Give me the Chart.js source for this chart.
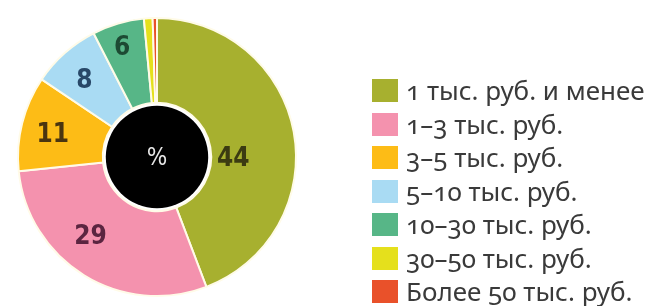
<!DOCTYPE html>
<html lang="ru">
<head>
<meta charset="utf-8">
<script src="https://cdn.jsdelivr.net/npm/chart.js@4.4.1/dist/chart.umd.min.js"></script>
<style>
  html, body { margin: 0; padding: 0; background: #fff; }
  #wrap { position: relative; width: 652px; height: 306px; }
  #legenda {
    position: absolute; left: 372px; top: 74px; margin: 0; padding: 0; list-style: none;
    font-family: "Noto Sans", "Open Sans", sans-serif; font-size: 26px; color: #3a3a3a;
    font-variant-numeric: oldstyle-nums; letter-spacing: 0;
  }
  #legenda li { height: 33.5px; display: flex; align-items: center; white-space: nowrap; line-height: 33px; }
  #legenda span.cx { display: inline-block; width: 26px; height: 23px; margin-right: 8px; }
</style>
</head>
<body>
<div id="wrap">
  <canvas id="grafico" width="652" height="306"></canvas>
  <ul id="legenda"></ul>
</div>
<script>
// Dados
const categorias = [
  '1 тыс. руб. и менее',
  '1–3 тыс. руб.',
  '3–5 тыс. руб.',
  '5–10 тыс. руб.',
  '10–30 тыс. руб.',
  '30–50 тыс. руб.',
  'Более 50 тыс. руб.'
];
const valores = [44, 29, 11, 8, 6, 1, 0.5];
const rotulos = ['44', '29', '11', '8', '6', '', ''];

// Estilo
const cores = ['#a7b02f', '#f492ae', '#fdbc16', '#a9dbf3', '#57b687', '#e5e01c', '#e9512a'];
const coresTexto = ['#3b3b12', '#5b2540', '#4a3510', '#284868', '#1d4a33', '#000', '#000'];
// posição do rótulo: fração ao longo do arco e fração do anel
const posRotulo = [[0.57, 0.26], [0.58, 0.58], [0.46, 0.62], [0.44, 0.61], [0.44, 0.72], [0.5, 0.6], [0.5, 0.6]];

const pluginRotulos = {
  id: 'rotulos',
  afterDatasetsDraw(chart) {
    const ctx = chart.ctx;
    const arcs = chart.getDatasetMeta(0).data;
    const primeiro = arcs[0];
    const cx = primeiro.x, cy = primeiro.y;

    // círculo central
    ctx.save();
    ctx.beginPath();
    ctx.arc(cx, cy, primeiro.innerRadius - 3, 0, Math.PI * 2);
    ctx.fillStyle = '#000';
    ctx.fill();
    ctx.fillStyle = '#e6e6e6';
    ctx.font = '24px "Liberation Sans Narrow", "DejaVu Sans Condensed", sans-serif';
    ctx.textAlign = 'center';
    ctx.textBaseline = 'middle';
    ctx.fillText('%', cx, cy + 2);

    ctx.font = 'bold 26px "Liberation Sans Narrow", "DejaVu Sans Condensed", sans-serif';
    arcs.forEach((arc, i) => {
      if (!rotulos[i]) return;
      const p = arc.getProps(['startAngle', 'endAngle', 'innerRadius', 'outerRadius']);
      const ang = p.startAngle + (p.endAngle - p.startAngle) * posRotulo[i][0];
      const r = p.innerRadius + (p.outerRadius - p.innerRadius) * posRotulo[i][1];
      ctx.fillStyle = coresTexto[i];
      ctx.fillText(rotulos[i], cx + r * Math.cos(ang), cy + r * Math.sin(ang) + 1);
    });
    ctx.restore();
  }
};

new Chart(document.getElementById('grafico'), {
  type: 'doughnut',
  data: {
    labels: categorias,
    datasets: [{
      data: valores,
      backgroundColor: cores,
      borderColor: '#fffbe8',
      borderWidth: 2
    }]
  },
  options: {
    responsive: false,
    animation: false,
    cutout: '39%',
    layout: { padding: { left: 17, top: 17, right: 355, bottom: 9 } },
    plugins: {
      legend: { display: false },
      tooltip: { enabled: false }
    }
  },
  plugins: [pluginRotulos]
});

// Legenda HTML
const legenda = document.getElementById('legenda');
categorias.forEach((nome, i) => {
  const li = document.createElement('li');
  const caixa = document.createElement('span');
  caixa.className = 'cx';
  caixa.style.background = cores[i];
  li.appendChild(caixa);
  li.appendChild(document.createTextNode(nome));
  legenda.appendChild(li);
});
</script>
</body>
</html>
